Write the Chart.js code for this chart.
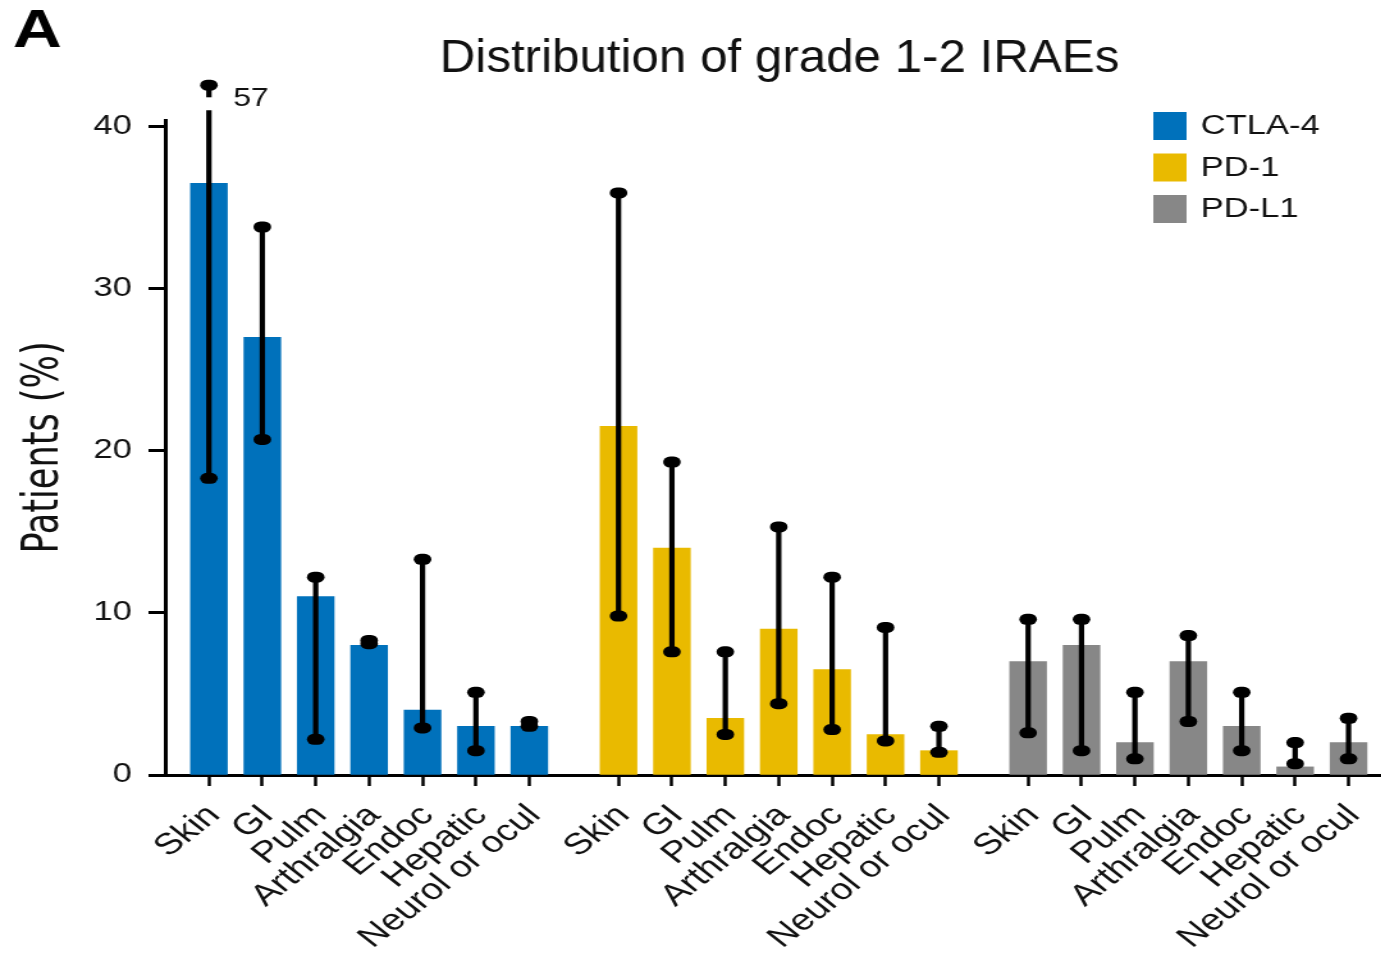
<!DOCTYPE html>
<html>
<head>
<meta charset="utf-8">
<script src="https://cdn.jsdelivr.net/npm/chart.js@4.4.1/dist/chart.umd.min.js"></script>
<style>
  html, body { margin: 0; padding: 0; background: #fff; overflow: hidden; }
  /* the figure is laid out narrow and widened horizontally */
  #wrap { width: 1079px; height: 963px; transform: scaleX(1.28); transform-origin: 0 0; }
</style>
</head>
<body>
<div id="wrap"><canvas id="chart"></canvas></div>
<script>
// ---- data ----
const groups = ['CTLA-4', 'PD-1', 'PD-L1'];
const categories = ['Skin', 'GI', 'Pulm', 'Arthralgia', 'Endoc', 'Hepatic', 'Neurol or ocul'];

const ctla4Values = [36.5, 27.0, 11.0, 8.0, 4.0, 3.0, 3.0];
const ctla4Low    = [18.3, 20.7, 2.2, 8.1, 2.9, 1.5, 3.0];
const ctla4High   = [57.0, 33.8, 12.2, 8.3, 13.3, 5.1, 3.3];

const pd1Values = [21.5, 14.0, 3.5, 9.0, 6.5, 2.5, 1.5];
const pd1Low    = [9.8, 7.6, 2.5, 4.4, 2.8, 2.1, 1.4];
const pd1High   = [35.9, 19.3, 7.6, 15.3, 12.2, 9.1, 3.0];

const pdl1Values = [7.0, 8.0, 2.0, 7.0, 3.0, 0.5, 2.0];
const pdl1Low    = [2.6, 1.5, 1.0, 3.3, 1.5, 0.7, 1.0];
const pdl1High   = [9.6, 9.6, 5.1, 8.6, 5.1, 2.0, 3.5];

const yTicks = [0, 10, 20, 30, 40];

const groupColors = ['#0071BB', '#E9BA00', '#878787'];
const titleText = 'Distribution of grade 1-2 IRAEs';
const panelLetter = 'A';
const yTitle = 'Patients (%)';

// ---- layout helpers ----
const GROUP_STRIDE = 7.67;          // distance between group starts, in bar slots
const slotPos = (g, i) => g * GROUP_STRIDE + i;
const allPositions = [];
groups.forEach((_, g) => categories.forEach((_, i) => allPositions.push(slotPos(g, i))));

const valueSets = [ctla4Values, pd1Values, pdl1Values];
const lowSets = [ctla4Low, pd1Low, pdl1Low];
const highSets = [ctla4High, pd1High, pdl1High];

const datasets = groups.map((name, g) => ({
  label: name,
  data: valueSets[g].map((v, i) => ({ x: slotPos(g, i), y: v })),
  errLow: lowSets[g],
  errHigh: highSets[g],
  backgroundColor: groupColors[g],
  borderWidth: 0,
  barThickness: 28.7,
  grouped: false
}));

const SANS = "'Liberation Sans', Arial, sans-serif";
const CONDENSED = "'DejaVu Sans Condensed', 'Liberation Sans', sans-serif";

// error bars with rounded caps; a bar running past the axis top is broken and labelled
const errorBars = {
  id: 'errorBars',
  afterDatasetsDraw(chart) {
    const ctx = chart.ctx;
    const y = chart.scales.y;
    const cap = (x, py) => {
      ctx.beginPath();
      ctx.lineWidth = 11;
      ctx.lineCap = 'round';
      ctx.moveTo(x - 1.4, py);
      ctx.lineTo(x + 1.4, py);
      ctx.stroke();
    };
    const seg = (x, a, b) => {
      ctx.beginPath();
      ctx.lineWidth = 4.2;
      ctx.lineCap = 'butt';
      ctx.moveTo(x, a);
      ctx.lineTo(x, b);
      ctx.stroke();
    };
    ctx.save();
    ctx.strokeStyle = '#000';
    chart.data.datasets.forEach((ds, di) => {
      const meta = chart.getDatasetMeta(di);
      meta.data.forEach((bar, i) => {
        const lo = ds.errLow[i], hi = ds.errHigh[i];
        const x = bar.x;
        const pLo = y.getPixelForValue(lo);
        if (hi > y.max) {
          const breakStart = y.getPixelForValue(y.max + 0.6);
          const stubStart = y.getPixelForValue(y.max + 1.4);
          const capPos = y.getPixelForValue(y.max + 2.15);
          seg(x, pLo, breakStart);
          seg(x, stubStart, capPos);
          cap(x, capPos);
          cap(x, pLo);
          ctx.fillStyle = '#111';
          ctx.font = '25px ' + SANS;
          ctx.textAlign = 'left';
          ctx.textBaseline = 'middle';
          ctx.fillText(String(hi), x + 19, y.getPixelForValue(y.max + 1.3));
        } else {
          const pHi = y.getPixelForValue(hi);
          seg(x, pLo, pHi);
          cap(x, pHi);
          cap(x, pLo);
        }
      });
    });
    ctx.restore();
  }
};

// panel letter, title and legend
const annotations = {
  id: 'annotations',
  afterDraw(chart) {
    const ctx = chart.ctx;
    ctx.save();
    ctx.fillStyle = '#000';
    ctx.textBaseline = 'middle';
    ctx.textAlign = 'left';
    ctx.font = 'bold 53px ' + SANS;
    ctx.fillText(panelLetter, 10, 32);

    // condensed title face
    ctx.save();
    ctx.fillStyle = '#111';
    ctx.textAlign = 'center';
    ctx.textBaseline = 'alphabetic';
    ctx.font = '46px ' + SANS;
    const w = ctx.measureText(titleText).width;
    ctx.translate(609, 72);
    ctx.scale(531 / w, 1);
    ctx.fillText(titleText, 0, 0);
    ctx.restore();

    ctx.textAlign = 'left';
    ctx.textBaseline = 'middle';
    ctx.font = '27px ' + SANS;
    chart.data.datasets.forEach((ds, k) => {
      const cy = 126 + k * 41.5;
      ctx.fillStyle = ds.backgroundColor;
      ctx.fillRect(901, cy - 14, 26, 28);
      ctx.fillStyle = '#111';
      ctx.fillText(ds.label, 938, cy + 1);
    });
    ctx.restore();
  }
};

new Chart(document.getElementById('chart'), {
  type: 'bar',
  data: { datasets },
  plugins: [errorBars, annotations],
  options: {
    responsive: true,
    maintainAspectRatio: false,
    animation: false,
    devicePixelRatio: 1,
    layout: { padding: { top: 120, right: 0, bottom: 0, left: 0 } },
    plugins: {
      legend: { display: false },
      title: { display: false },
      tooltip: { enabled: false }
    },
    scales: {
      x: {
        type: 'linear',
        min: -0.82,
        max: 21.95,
        offset: false,
        grid: { display: true, drawOnChartArea: false, offset: false, tickLength: 11, tickWidth: 2.5, tickColor: '#000' },
        border: { display: true, color: '#000', width: 3 },
        afterBuildTicks: (axis) => { axis.ticks = allPositions.map(v => ({ value: v })); },
        afterFit: (axis) => {
          axis.height = 188;
          axis.paddingLeft = 0;
          axis.paddingRight = 0;
        },
        ticks: {
          autoSkip: false,
          minRotation: 45,
          maxRotation: 45,
          padding: 12,
          labelOffset: 4,
          color: '#111',
          font: { family: SANS, size: 30 },
          callback: (value, index) => categories[index % categories.length]
        }
      },
      y: {
        type: 'linear',
        min: 0,
        max: 40.4,
        grid: { display: true, drawOnChartArea: false, tickLength: 13, tickWidth: 3, tickColor: '#000' },
        border: { display: true, color: '#000', width: 3 },
        afterBuildTicks: (axis) => { axis.ticks = yTicks.map(v => ({ value: v })); },
        afterFit: (axis) => {
          axis.width = 129;
          axis.paddingTop = 0;
          axis.paddingBottom = 0;
        },
        ticks: {
          padding: 13,
          color: '#111',
          font: { family: SANS, size: 27 }
        },
        title: {
          display: true,
          text: yTitle,
          color: '#111',
          font: { family: CONDENSED, size: 39 },
          padding: { top: 11, bottom: 0 }
        }
      }
    }
  }
});
</script>
</body>
</html>
